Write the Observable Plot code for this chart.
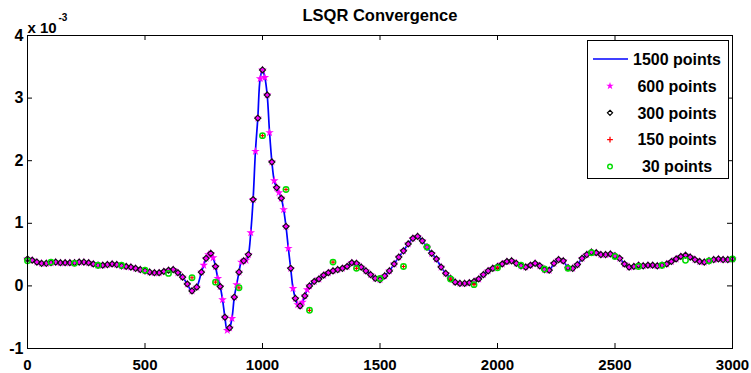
<!DOCTYPE html>
<html><head><meta charset="utf-8">
<script src="https://cdn.jsdelivr.net/npm/d3@7"></script>
<script src="https://cdn.jsdelivr.net/npm/@observablehq/plot@0.6"></script>
<style>html,body{margin:0;padding:0;background:#fff}svg{display:block}</style>
</head><body><div id="chart"></div>
<script>
// ---- data ----
const xTicks = [0, 500, 1000, 1500, 2000, 2500, 3000];
const yTicks = [-1, 0, 1, 2, 3, 4];
const seriesNames = ["1500 points", "600 points", "300 points", "150 points", "30 points"];

// 300-point solution (diamonds), every 20 units from 0 to 3000 (values x 1e-3)
const x300 = d3.range(0, 3001, 20);
const v300 = [
  0.43,0.41,0.38,0.36,0.36,0.37,0.38,0.37,0.37,0.37,
  0.37,0.38,0.38,0.37,0.35,0.33,0.33,0.34,0.35,0.34,
  0.32,0.31,0.30,0.28,0.26,0.24,0.22,0.21,0.21,0.23,
  0.25,0.26,0.21,0.14,0.03,-0.08,-0.02,0.22,0.44,0.52,
  0.31,-0.01,-0.50,-0.67,-0.18,0.22,0.40,0.50,1.38,2.68,
  3.45,3.05,1.98,1.57,1.40,0.95,0.28,-0.20,-0.32,-0.16,
  0.00,0.07,0.11,0.17,0.21,0.24,0.26,0.28,0.31,0.37,
  0.36,0.30,0.24,0.18,0.12,0.10,0.16,0.24,0.35,0.46,
  0.56,0.67,0.76,0.79,0.72,0.62,0.52,0.43,0.30,0.20,
  0.12,0.06,0.04,0.04,0.05,0.07,0.11,0.18,0.24,0.28,
  0.31,0.35,0.39,0.40,0.36,0.32,0.30,0.33,0.36,0.32,
  0.26,0.25,0.36,0.42,0.40,0.29,0.28,0.34,0.44,0.50,
  0.54,0.53,0.50,0.50,0.51,0.48,0.44,0.35,0.30,0.31,
  0.33,0.32,0.33,0.33,0.32,0.33,0.35,0.39,0.43,0.47,
  0.49,0.46,0.42,0.39,0.38,0.40,0.42,0.43,0.42,0.42,
  0.43
];

// 600-point solution (stars) where it shows between the diamonds
const x600 = [750,770,790,810,830,850,870,890,910,930,950,970,990,1010,1030,1050,1070,1090,1110,1130,1150,1170,1190];
const v600 = [0.33,0.50,0.45,0.12,-0.22,-0.71,-0.52,0.02,0.38,0.41,0.85,2.15,3.31,3.33,2.45,1.68,1.49,1.22,0.60,-0.04,-0.30,-0.26,-0.06];

// 150-point solution (red plus) where visible
const x150 = [700,800,900,1000,1100,1200,1300,1400,1600,1800,1900,2000];
const v150 = [0.13,0.06,-0.03,2.40,1.54,-0.39,0.38,0.28,0.31,0.11,0.02,0.29];

// 30-point solution (green circles), every 100 units
const x30 = d3.range(0, 3001, 100);
const v30 = [0.40,0.38,0.36,0.33,0.33,0.25,0.20,0.13,0.06,-0.03,2.40,1.54,-0.39,0.38,0.28,0.12,0.31,0.62,0.11,0.02,0.29,0.33,0.27,0.28,0.53,0.47,0.31,0.33,0.41,0.40,0.43];

// ---- tables ----
const d300 = x300.map((x, i) => ({x, y: v300[i]}));
const d600extra = x600.map((x, i) => ({x, y: v600[i]}));
const d600 = d300.concat(d600extra);
const lineData = d600.slice().sort((a, b) => a.x - b.x);
const d150 = x150.map((x, i) => ({x, y: v150[i]}));
const d30 = x30.map((x, i) => ({x, y: v30[i]}));

const W = 751, H = 373;
const mL = 27, mR = 19, mT = 35, mB = 25;
const fw = W - mL - mR, fh = H - mT - mB;
const BLUE = "#0000ff", MAG = "#ff00ff", GREEN = "#00dd00", RED = "#ff0000";

function legend(index, scales, values, dims) {
  const g = d3.create("svg:g");
  const bw = 141, bh = 138;
  const x0 = dims.width - dims.marginRight - 4 - bw;
  const y0 = dims.marginTop + 5;
  g.append("rect").attr("x", x0 + 0.5).attr("y", y0 + 0.5)
    .attr("width", bw).attr("height", bh)
    .attr("fill", "white").attr("stroke", "black").attr("stroke-width", 1);
  const mx = x0 + 23;
  seriesNames.forEach((name, i) => {
    const cy = y0 + 19 + i * 26.9;
    if (i === 0) {
      g.append("line").attr("x1", x0 + 6).attr("x2", x0 + 41).attr("y1", cy).attr("y2", cy)
        .attr("stroke", BLUE).attr("stroke-width", 1.5);
    } else {
      const sym = [null, d3.symbolStar, d3.symbolDiamond2, d3.symbolPlus, d3.symbolCircle][i];
      const r = [0, 2.4, 2.3, 2, 2.3][i];
      const p = g.append("path")
        .attr("transform", `translate(${mx},${cy})`)
        .attr("d", d3.symbol(sym, r * r * Math.PI)());
      if (i === 1) p.attr("fill", MAG);
      if (i === 2) p.attr("fill", "none").attr("stroke", "black").attr("stroke-width", 1.2);
      if (i === 3) p.attr("fill", "none").attr("stroke", RED).attr("stroke-width", 1.3);
      if (i === 4) p.attr("fill", "none").attr("stroke", GREEN).attr("stroke-width", 1.4);
    }
    g.append("text").attr("x", x0 + 90).attr("y", cy).attr("dy", "0.36em")
      .attr("text-anchor", "middle").attr("font-size", 16).attr("font-weight", "bold")
      .attr("fill", "black").text(name);
  });
  return g.node();
}

const chart = Plot.plot({
  width: W, height: H,
  marginLeft: mL, marginRight: mR, marginTop: mT, marginBottom: mB,
  style: {fontFamily: "'Liberation Sans', Arial, sans-serif", background: "white", color: "black", overflow: "visible"},
  x: {domain: [0, 3000], label: null},
  y: {domain: [-1, 4], label: null},
  marks: [
    Plot.line(lineData, {x: "x", y: "y", stroke: BLUE, strokeWidth: 1.7, curve: "catmull-rom"}),
    Plot.dot(d600, {x: "x", y: "y", symbol: "star", r: 2.7, fill: MAG, stroke: "none"}),
    Plot.dot(d300, {x: "x", y: "y", symbol: "diamond2", r: 2.7, fill: "none", stroke: "#111", strokeWidth: 1.2}),
    Plot.dot(d150, {x: "x", y: "y", symbol: "plus", r: 1.6, stroke: RED, strokeWidth: 1.2}),
    Plot.dot(d30, {x: "x", y: "y", symbol: "circle", r: 2.7, fill: "none", stroke: GREEN, strokeWidth: 1.5}),
    Plot.frame({stroke: "black", strokeWidth: 1}),
    // inward ticks on all four sides
    Plot.tickX(xTicks, {x: d => d, insetTop: fh - 5, stroke: "black"}),
    Plot.tickX(xTicks, {x: d => d, insetBottom: fh - 5, stroke: "black"}),
    Plot.tickY(yTicks, {y: d => d, insetRight: fw - 5, stroke: "black"}),
    Plot.tickY(yTicks, {y: d => d, insetLeft: fw - 5, stroke: "black"}),
    Plot.axisX(xTicks, {tickSize: 0, tickPadding: 11, fontSize: 15, fontWeight: "bold", tickFormat: d => String(d)}),
    Plot.axisY(yTicks, {tickSize: 0, tickPadding: 4, fontSize: 16, fontWeight: "bold", tickFormat: d => String(d)}),
    Plot.text(["LSQR Convergence"], {text: d => d, frameAnchor: "top", lineAnchor: "bottom", dy: -15, fontSize: 16.5, fontWeight: "bold"}),
    Plot.text(["x 10"], {text: d => d, frameAnchor: "top-left", textAnchor: "start", lineAnchor: "bottom", dy: -3, fontSize: 15, fontWeight: "bold"}),
    Plot.text(["-3"], {text: d => d, frameAnchor: "top-left", textAnchor: "start", lineAnchor: "bottom", dx: 31, dy: -15, fontSize: 10, fontWeight: "bold"}),
    legend
  ]
});
document.getElementById("chart").appendChild(chart);
</script>
</body></html>
